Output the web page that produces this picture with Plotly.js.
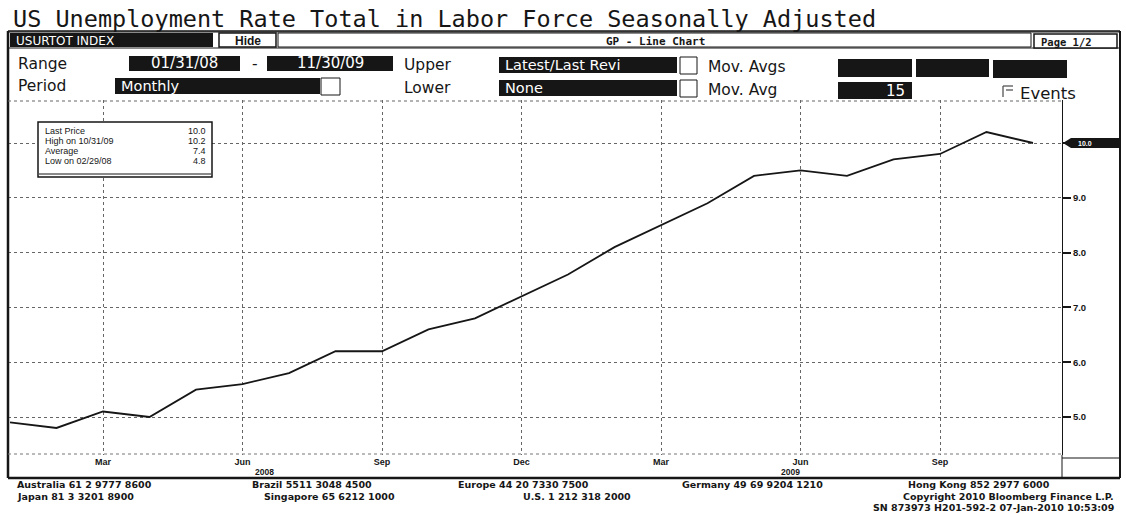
<!DOCTYPE html>
<html>
<head>
<meta charset="utf-8">
<script src="https://cdn.plot.ly/plotly-3.0.1.min.js"></script>
<style>
  html, body { margin: 0; padding: 0; background: #ffffff; }
  #chart { width: 1126px; height: 514px; }
</style>
</head>
<body>
<div id="chart"></div>
<script>
// ---- data ----
const dates = ['01/31/08','02/29/08','03/31/08','04/30/08','05/31/08','06/30/08','07/31/08','08/31/08',
               '09/30/08','10/31/08','11/30/08','12/31/08','01/31/09','02/28/09','03/31/09','04/30/09',
               '05/31/09','06/30/09','07/31/09','08/31/09','09/30/09','10/31/09','11/30/09'];
const rate = [4.9, 4.8, 5.1, 5.0, 5.5, 5.6, 5.8, 6.2, 6.2, 6.6, 6.8, 7.2,
              7.6, 8.1, 8.5, 8.9, 9.4, 9.5, 9.4, 9.7, 9.8, 10.2, 10.0];
const tickDates = ['03/31/08','06/30/08','09/30/08','12/31/08','03/31/09','06/30/09','09/30/09'];
const tickText  = ['Mar','Jun','Sep','Dec','Mar','Jun','Sep'];
const yearText  = ['2008','2009'];
const yearAt    = ['06/30/08','06/30/09'];
const yTicks    = [5, 6, 7, 8, 9, 10];
const yTickText = ['5.0', '6.0', '7.0', '8.0', '9.0', ''];   // 10.0 is shown by the last-price tag

const titleText = 'US Unemployment Rate Total in Labor Force Seasonally Adjusted';
const tickerText = 'USURTOT INDEX';
const footer1 = ['Australia 61 2 9777 8600','Brazil 5511 3048 4500','Europe 44 20 7330 7500',
                 'Germany 49 69 9204 1210','Hong Kong 852 2977 6000'];
const footer2 = ['Japan 81 3 3201 8900','Singapore 65 6212 1000','U.S. 1 212 318 2000',
                 'Copyright 2010 Bloomberg Finance L.P.'];
const footer3 = 'SN 873973 H201-592-2 07-Jan-2010 10:53:09';

// ---- derived statistics ----
const n = rate.length;
const last = rate[n - 1];
let hiI = 0, loI = 0;
rate.forEach((v, i) => { if (v > rate[hiI]) hiI = i; if (v < rate[loI]) loI = i; });
const avg = rate.reduce((a, b) => a + b, 0) / n;

// ---- layout geometry (pixels) ----
const PL = 8, PR = 1062, PT = 100, PB = 455;
const px = x => (x - PL) / (PR - PL);
const py = y => (PB - y) / (PB - PT);
const PPY = 54.8;                 // pixels per unit on y
const yTop = 10 + (143 - PT) / PPY;
const yBot = 10 - (PB - 143) / PPY;
const PPX = 46.5;                 // pixels per month
const xr0 = -(10 - PL) / PPX;
const xr1 = (PR - 10) / PPX;

const BLACK = '#161616';
const SANS = 'DejaVu Sans, sans-serif';
const ARIAL = 'Liberation Sans, Arial, sans-serif';
const MONO = 'DejaVu Sans Mono, monospace';

const shapes = [];
const annotations = [];

function rect(x0, y0, x1, y1, fill, lc, lw) {
  shapes.push({type: 'rect', xref: 'paper', yref: 'paper',
    x0: px(x0), x1: px(x1), y0: py(y1), y1: py(y0),
    fillcolor: fill || 'rgba(0,0,0,0)', line: {color: lc || BLACK, width: lw === undefined ? 1 : lw},
    layer: 'above'});
}
function line(x0, y0, x1, y1, w, dash, c) {
  shapes.push({type: 'line', xref: 'paper', yref: 'paper',
    x0: px(x0), x1: px(x1), y0: py(y0), y1: py(y1),
    line: {color: c || BLACK, width: w || 1, dash: dash || 'solid'}, layer: 'above'});
}
function txt(text, x, y, size, opts) {
  opts = opts || {};
  annotations.push({text: text, xref: 'paper', yref: 'paper', x: px(x), y: py(y),
    xanchor: opts.anchor || 'left', yanchor: 'middle', showarrow: false,
    font: {family: opts.family || SANS, size: size, color: opts.color || BLACK}});
}

// Title
txt(titleText, 11, 19, 23.5, {family: MONO});

// Header bar
line(8, 31, 1120, 31, 1.5);
rect(8, 32, 1120, 48, '#ffffff', BLACK, 1);
rect(10, 33, 213, 47, BLACK, BLACK, 0);
txt(tickerText, 14, 40.5, 12, {color: '#ffffff'});
rect(219, 33, 276, 47, '#ffffff', BLACK, 1.5);
txt('<b>Hide</b>', 247.5, 40.5, 12, {anchor: 'center', family: ARIAL});
rect(278, 33, 1031, 47, '#ffffff', BLACK, 1);
txt('<b>GP - Line Chart</b>', 655, 41, 11, {anchor: 'center', family: MONO});
rect(1034, 34, 1117, 48, '#ffffff', BLACK, 1.5);
txt('<b>Page 1/2</b>', 1039, 41.5, 10.5, {family: MONO});

// Row: Range
txt('Range', 16, 64, 15.5);
rect(129, 56, 240, 71, BLACK, BLACK, 0);
txt(dates[0], 184.5, 63.5, 15, {anchor: 'center', color: '#ffffff'});
txt('-', 255, 64, 15.5, {anchor: 'center'});
rect(267, 56, 393, 71, BLACK, BLACK, 0);
txt(dates[n - 1], 330, 63.5, 15, {anchor: 'center', color: '#ffffff'});
txt('Upper', 402, 65, 15.5);
rect(499, 57, 677, 73, BLACK, BLACK, 0);
txt('Latest/Last Revi', 503, 65, 14.5, {color: '#ffffff'});
rect(680, 57, 697, 74, '#ffffff', BLACK, 1);
txt('Mov. Avgs', 706, 67, 15.5);
rect(838, 59, 912, 77, BLACK, BLACK, 0);
rect(916, 59, 989, 77, BLACK, BLACK, 0);
rect(993, 60, 1067, 78, BLACK, BLACK, 0);

// Row: Period
txt('Period', 16, 86, 15.5);
rect(115, 78, 320, 94, BLACK, BLACK, 0);
txt('Monthly', 119, 86, 14.5, {color: '#ffffff'});
rect(321, 78, 340, 95, '#ffffff', BLACK, 1);
txt('Lower', 402, 88, 15.5);
rect(499, 80, 677, 96, BLACK, BLACK, 0);
txt('None', 503, 88, 14.5, {color: '#ffffff'});
rect(680, 80, 697, 97, '#ffffff', BLACK, 1);
txt('Mov. Avg', 706, 90, 15.5);
rect(838, 82, 912, 99, BLACK, BLACK, 0);
txt('15', 907, 91, 15, {anchor: 'right', color: '#ffffff'});
// Events checkbox glyph
line(1003, 86, 1003, 97, 1.3, 'solid', '#555');
line(1003, 86, 1013, 86, 1.3, 'solid', '#555');
line(1006, 90, 1013, 90, 1.3, 'solid', '#555');
txt('Events', 1018, 93, 16.5);

// Frame
line(8, 31, 8, 478, 2.5);
line(1120, 31, 1120, 478, 2);
line(8, 101, 1062, 101, 1, 'dot', '#666');
line(1062, PB, 1062, 478, 1);
line(1062, 458, 1120, 458, 1.2);
line(8, 478, 1120, 478, 2.5);
line(PL, PB - 1, PR, PB - 1, 1, 'dot', '#777');

// Stats box
rect(38, 122, 212, 177, '#ffffff', BLACK, 1.5);
line(39, 174, 211, 174, 1);
const statsL = ['Last Price', 'High on ' + dates[hiI], 'Average', 'Low on ' + dates[loI]];
const statsV = [last.toFixed(1), rate[hiI].toFixed(1), avg.toFixed(1), rate[loI].toFixed(1)];
const statsY = [131, 141, 151, 161];
statsL.forEach((s, i) => {
  txt(s, 43, statsY[i], 9, {family: ARIAL});
  txt(statsV[i], 208, statsY[i], 9, {family: ARIAL, anchor: 'right'});
});

// Last-price tag on the right axis
const dy = 5 / PPY;
shapes.push({type: 'path', xref: 'paper', yref: 'y', layer: 'above',
  path: `M ${px(1063)} ${last} L ${px(1071)} ${last + dy} L ${px(1120)} ${last + dy} ` +
        `L ${px(1120)} ${last - dy} L ${px(1071)} ${last - dy} Z`,
  fillcolor: BLACK, line: {color: BLACK, width: 0}});
annotations.push({text: '<b>' + last.toFixed(1) + '</b>', xref: 'paper', yref: 'y',
  x: px(1076), y: last, xanchor: 'left', yanchor: 'middle', showarrow: false,
  font: {family: ARIAL, size: 7, color: '#ffffff'}});

// Year labels under the month ticks
yearText.forEach((t, i) => {
  annotations.push({text: '<b>' + t + '</b>', xref: 'x', yref: 'paper', x: yearAt[i],
    y: py(472), xshift: i === 0 ? 22 : -10, xanchor: 'center', yanchor: 'middle', showarrow: false,
    font: {family: ARIAL, size: 8.5, color: BLACK}});
});

// Footer
const FOOT = 9.5;
const f1x = [15, 250, 456, 680, 906];
footer1.forEach((t, i) => txt('<b>' + t + '</b>', f1x[i], 485, FOOT, {family: SANS}));
const f2x = [15, 262, 521];
footer2.slice(0, 3).forEach((t, i) => txt('<b>' + t + '</b>', f2x[i], 496, FOOT, {family: SANS}));
txt('<b>' + footer2[3] + '</b>', 1116, 496, FOOT, {family: SANS, anchor: 'right'});
txt('<b>' + footer3 + '</b>', 1116, 507, FOOT, {family: SANS, anchor: 'right'});

const trace = {
  x: dates, y: rate, type: 'scatter', mode: 'lines',
  line: {color: BLACK, width: 1.8}, hoverinfo: 'skip'
};

const layout = {
  width: 1126, height: 514,
  margin: {l: PL, r: 1126 - PR, t: PT, b: 514 - PB, pad: 0},
  paper_bgcolor: '#ffffff', plot_bgcolor: '#ffffff',
  showlegend: false,
  xaxis: {
    type: 'category', range: [xr0, xr1], fixedrange: true,
    tickmode: 'array', tickvals: tickDates, ticktext: tickText,
    ticks: '', showline: false, zeroline: false,
    showgrid: true, gridcolor: '#666', griddash: 'dot', gridwidth: 1,
    tickfont: {family: ARIAL, size: 9, color: BLACK, weight: 'bold'},
    automargin: false
  },
  yaxis: {
    side: 'right', range: [yBot, yTop], fixedrange: true,
    tickmode: 'array', tickvals: yTicks, ticktext: yTickText,
    ticks: 'outside', ticklen: 8, tickwidth: 2, tickcolor: BLACK,
    showline: true, linecolor: BLACK, linewidth: 1, mirror: false, zeroline: false,
    showgrid: true, gridcolor: '#666', griddash: 'dot', gridwidth: 1,
    tickfont: {family: ARIAL, size: 9.5, color: BLACK, weight: 'bold'},
    automargin: false
  },
  shapes: shapes,
  annotations: annotations
};

Plotly.newPlot('chart', [trace], layout, {displayModeBar: false, staticPlot: true});
</script>
</body>
</html>
